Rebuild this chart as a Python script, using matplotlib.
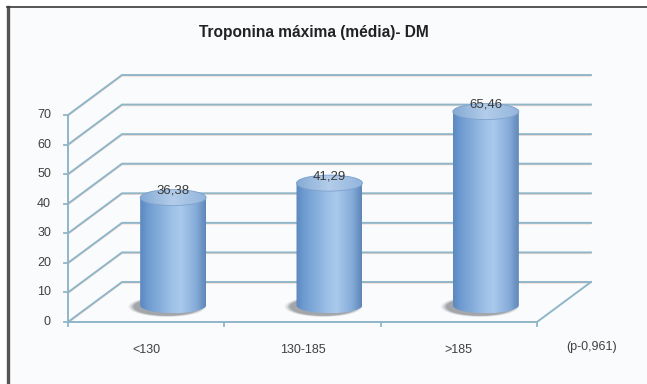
import numpy as np
import matplotlib
matplotlib.use('Agg')
import matplotlib.pyplot as plt
from matplotlib.patches import Ellipse, Polygon, Rectangle
from matplotlib.colors import LinearSegmentedColormap
from matplotlib.lines import Line2D

# ---------------- data ----------------
categories = ['<130', '130-185', '>185']
values = [36.38, 41.29, 65.46]
value_labels = ['36,38', '41,29', '65,46']
y_ticks = [0, 10, 20, 30, 40, 50, 60, 70]
title = 'Troponina máxima (média)- DM'
note = '(p-0,961)'

# ---------------- layout ----------------
W, H = 647, 384
fig = plt.figure(figsize=(W / 100, H / 100), dpi=100)
fig.patch.set_facecolor('white')
ax = fig.add_axes([0, 0, 1, 1])

X0PX, XPX = 68.0, 156.33      # pixel x of category 0, pixels per category
Y0PX, YPX = 322.0, 2.957      # pixel y (from top) of value 0, pixels per unit
XMIN, XMAX = -X0PX / XPX, (W - X0PX) / XPX
YMIN, YMAX = -(H - Y0PX) / YPX, Y0PX / YPX

DX = 54 / XPX                 # depth offset
DY = 40 / YPX
GRID = '#8fb6c8'
TXT = '#404040'

# panel background + frame
ax.add_patch(Rectangle((8 / W, 0), 1, 1 - 7 / H, transform=ax.transAxes,
                       facecolor='#fafbfd', edgecolor='none', zorder=0))
fig.add_artist(Line2D([7.5 / W, 7.5 / W], [0, 1 - 6.5 / H], color='#555555', lw=2.4))
fig.add_artist(Line2D([7 / W, 1], [1 - 6.5 / H, 1 - 6.5 / H], color='#3a3a3a', lw=1.2))

n = len(categories)
# walls / gridlines
for v in y_ticks:
    ax.plot([0, DX, n + DX], [v - 0.35, v + DY - 0.35, v + DY - 0.35],
            color='#f4ddd2', lw=1.0, zorder=1, solid_capstyle='butt')
    ax.plot([0, DX, n + DX], [v, v + DY, v + DY], color=GRID, lw=1.4, zorder=2)
# floor
ax.plot([0, n, n + DX], [0, 0, DY], color=GRID, lw=1.4, zorder=2)
# front axis
ax.plot([0, 0], [0, y_ticks[-1]], color=GRID, lw=1.4, zorder=2)
tl = 4 / XPX
for v in y_ticks:
    ax.plot([-tl, 0], [v, v], color=GRID, lw=1.3, zorder=2)
    ax.text(-17 / XPX, v, str(v), ha='right', va='center', fontsize=9,
            color=TXT, family='Liberation Sans')
for i in range(n + 1):
    ax.plot([i, i], [0, -4 / YPX], color=GRID, lw=1.3, zorder=2)
for i, c in enumerate(categories):
    ax.text(i + 0.5, -28 / YPX, c, ha='center', va='center', fontsize=9,
            color=TXT, family='Liberation Sans')
ax.text(n + 55 / XPX, -25 / YPX, note, ha='center', va='center', fontsize=9,
        color=TXT, family='Liberation Sans')

# cylinders
body_cmap = LinearSegmentedColormap.from_list('body', [
    (0.0, '#5a88c0'), (0.12, '#6e9bd0'), (0.5, '#9fc2e8'), (0.62, '#a9caec'),
    (0.85, '#86acd9'), (1.0, '#5f86b9')])
top_cmap = LinearSegmentedColormap.from_list('top', [
    (0.0, '#86aad4'), (0.5, '#b3cdea'), (1.0, '#93b5dc')])
grad = np.linspace(0, 1, 256)[None, :]

RX = 33 / XPX
RY = 8 / YPX
BASE = 0.42 * DY
t = np.linspace(0, np.pi, 60)
for i, v in enumerate(values):
    cx = i + 0.5 + DX / 2
    top = v + BASE
    # shadow
    for k, a in enumerate([0.08, 0.12, 0.18, 0.24]):
        s = 1.18 - 0.05 * k
        ax.add_patch(Ellipse((cx - 6 / XPX, BASE - 1.5 / YPX), 2 * RX * s, 2 * RY * (s + 0.1),
                             facecolor='#4c525a', edgecolor='none', alpha=a, zorder=3))
    # body
    lower = np.column_stack([cx - RX * np.cos(t), BASE - RY * np.sin(t)])
    upper = np.column_stack([cx + RX * np.cos(t), top + RY * np.sin(t)])
    pts = np.vstack([[[cx - RX, top]], lower, upper])
    body = Polygon(pts, closed=True, facecolor='none', edgecolor='none', zorder=4)
    ax.add_patch(body)
    im = ax.imshow(grad, cmap=body_cmap, extent=[cx - RX, cx + RX, BASE - RY, top + RY],
                   aspect='auto', origin='lower', zorder=4, interpolation='bilinear')
    im.set_clip_path(body)
    # top face
    topell = Ellipse((cx, top), 2 * RX, 2 * RY, facecolor='none', edgecolor='#7fa3cf',
                     lw=0.6, zorder=6)
    ax.add_patch(topell)
    im2 = ax.imshow(grad, cmap=top_cmap, extent=[cx - RX, cx + RX, top - RY, top + RY],
                    aspect='auto', origin='lower', zorder=5, interpolation='bilinear')
    im2.set_clip_path(topell)
    ax.text(cx, top + RY - 1 / YPX, value_labels[i], ha='center', va='center',
            fontsize=9.5, color='#3a3a3a', family='Liberation Sans', zorder=7)

fig.text(313.5 / W, 1 - 33 / H, title, ha='center', va='center', fontsize=11.2,
         fontweight='bold', color='#222222',
         family=['Liberation Sans Narrow', 'Liberation Sans', 'DejaVu Sans'])

ax.set_xlim(XMIN, XMAX)
ax.set_ylim(YMIN, YMAX)
ax.axis('off')
fig.savefig('out.png', dpi=100, facecolor=fig.get_facecolor())
